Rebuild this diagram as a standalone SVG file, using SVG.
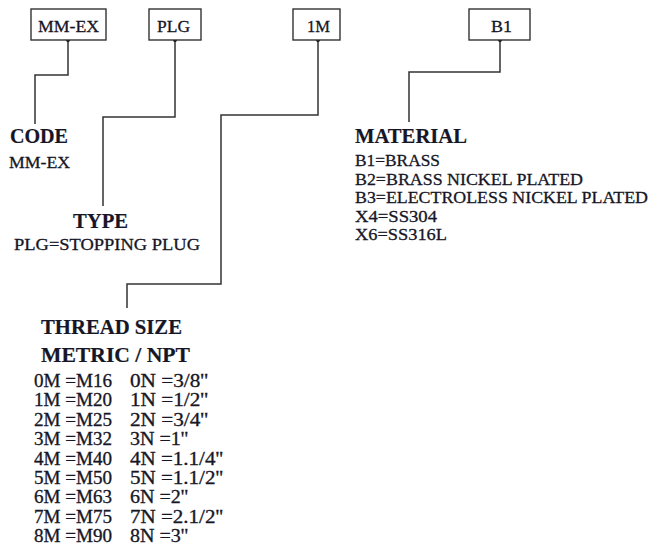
<svg xmlns="http://www.w3.org/2000/svg" width="650" height="548" viewBox="0 0 650 548">
<style>
.box{fill:#fff;stroke:#333;stroke-width:1.4}
.ln{fill:none;stroke:#333;stroke-width:1.5}
.dot{fill:#111}
text{font-family:"Liberation Serif","DejaVu Serif",serif;fill:#161626;stroke:#161626;stroke-width:0.3}
.bl{font-size:17px}
.h{font-size:20px;font-weight:bold;stroke-width:0.2}
.t{font-size:17px}
.m{font-size:17px}
.r{font-size:18px}
</style>
<rect width="650" height="548" fill="#fff"/>
<g id="connectors">
<path class="ln" d="M68,40 V75 H35 V124"/>
<path class="ln" d="M175,40 V117 H103 V206"/>
<path class="ln" d="M318,40 V115 H221 V284 H127 V308"/>
<path class="ln" d="M500,40 V72 H409 V122"/>
<circle class="dot" cx="68" cy="40" r="2"/>
<circle class="dot" cx="175" cy="40" r="2"/>
<circle class="dot" cx="318" cy="40" r="2"/>
<circle class="dot" cx="500" cy="40" r="2"/>
</g>
<g id="box-mmex"><rect class="box" x="31" y="9" width="75" height="31"/><text class="bl" x="38" y="32" textLength="61" lengthAdjust="spacingAndGlyphs">MM-EX</text></g>
<g id="box-plg"><rect class="box" x="149" y="9" width="52" height="31"/><text class="bl" x="157" y="32" textLength="33" lengthAdjust="spacingAndGlyphs">PLG</text></g>
<g id="box-1m"><rect class="box" x="293" y="9" width="47" height="31"/><text class="bl" x="307" y="32" textLength="23" lengthAdjust="spacingAndGlyphs">1M</text></g>
<g id="box-b1"><rect class="box" x="469" y="9" width="61" height="31"/><text class="bl" x="491" y="32" textLength="21" lengthAdjust="spacingAndGlyphs">B1</text></g>
<g id="code">
<text class="h" x="10" y="143" textLength="58" lengthAdjust="spacingAndGlyphs">CODE</text>
<text class="t" x="9" y="168" textLength="61" lengthAdjust="spacingAndGlyphs">MM-EX</text>
</g>
<g id="type">
<text class="h" x="73" y="228" textLength="55" lengthAdjust="spacingAndGlyphs">TYPE</text>
<text class="t" x="14" y="250" textLength="186" lengthAdjust="spacingAndGlyphs">PLG=STOPPING PLUG</text>
</g>
<g id="material">
<text class="h" x="355" y="143" textLength="112" lengthAdjust="spacingAndGlyphs">MATERIAL</text>
<text class="m" x="355" y="166" textLength="85" lengthAdjust="spacingAndGlyphs">B1=BRASS</text>
<text class="m" x="355" y="184.5" textLength="228" lengthAdjust="spacingAndGlyphs">B2=BRASS NICKEL PLATED</text>
<text class="m" x="355" y="203" textLength="293" lengthAdjust="spacingAndGlyphs">B3=ELECTROLESS NICKEL PLATED</text>
<text class="m" x="355" y="221.5" textLength="82" lengthAdjust="spacingAndGlyphs">X4=SS304</text>
<text class="m" x="355" y="240" textLength="92" lengthAdjust="spacingAndGlyphs">X6=SS316L</text>
</g>
<g id="thread">
<text class="h" x="41" y="334" textLength="141" lengthAdjust="spacingAndGlyphs">THREAD SIZE</text>
<text class="h" x="41" y="362" textLength="149" lengthAdjust="spacingAndGlyphs">METRIC / NPT</text>
<text class="r" x="34" y="387" textLength="78" lengthAdjust="spacingAndGlyphs">0M =M16</text><text class="r" x="130" y="387" textLength="78" lengthAdjust="spacingAndGlyphs">0N =3/8''</text>
<text class="r" x="34" y="406.4" textLength="78" lengthAdjust="spacingAndGlyphs">1M =M20</text><text class="r" x="130" y="406.4" textLength="78" lengthAdjust="spacingAndGlyphs">1N =1/2''</text>
<text class="r" x="34" y="425.8" textLength="78" lengthAdjust="spacingAndGlyphs">2M =M25</text><text class="r" x="130" y="425.8" textLength="78" lengthAdjust="spacingAndGlyphs">2N =3/4''</text>
<text class="r" x="34" y="445.2" textLength="78" lengthAdjust="spacingAndGlyphs">3M =M32</text><text class="r" x="130" y="445.2" textLength="58" lengthAdjust="spacingAndGlyphs">3N =1''</text>
<text class="r" x="34" y="464.6" textLength="78" lengthAdjust="spacingAndGlyphs">4M =M40</text><text class="r" x="130" y="464.6" textLength="93" lengthAdjust="spacingAndGlyphs">4N =1.1/4''</text>
<text class="r" x="34" y="484" textLength="78" lengthAdjust="spacingAndGlyphs">5M =M50</text><text class="r" x="130" y="484" textLength="93" lengthAdjust="spacingAndGlyphs">5N =1.1/2''</text>
<text class="r" x="34" y="503.4" textLength="78" lengthAdjust="spacingAndGlyphs">6M =M63</text><text class="r" x="130" y="503.4" textLength="58" lengthAdjust="spacingAndGlyphs">6N =2''</text>
<text class="r" x="34" y="522.8" textLength="78" lengthAdjust="spacingAndGlyphs">7M =M75</text><text class="r" x="130" y="522.8" textLength="93" lengthAdjust="spacingAndGlyphs">7N =2.1/2''</text>
<text class="r" x="34" y="542.2" textLength="78" lengthAdjust="spacingAndGlyphs">8M =M90</text><text class="r" x="130" y="542.2" textLength="58" lengthAdjust="spacingAndGlyphs">8N =3''</text>
</g>
</svg>
